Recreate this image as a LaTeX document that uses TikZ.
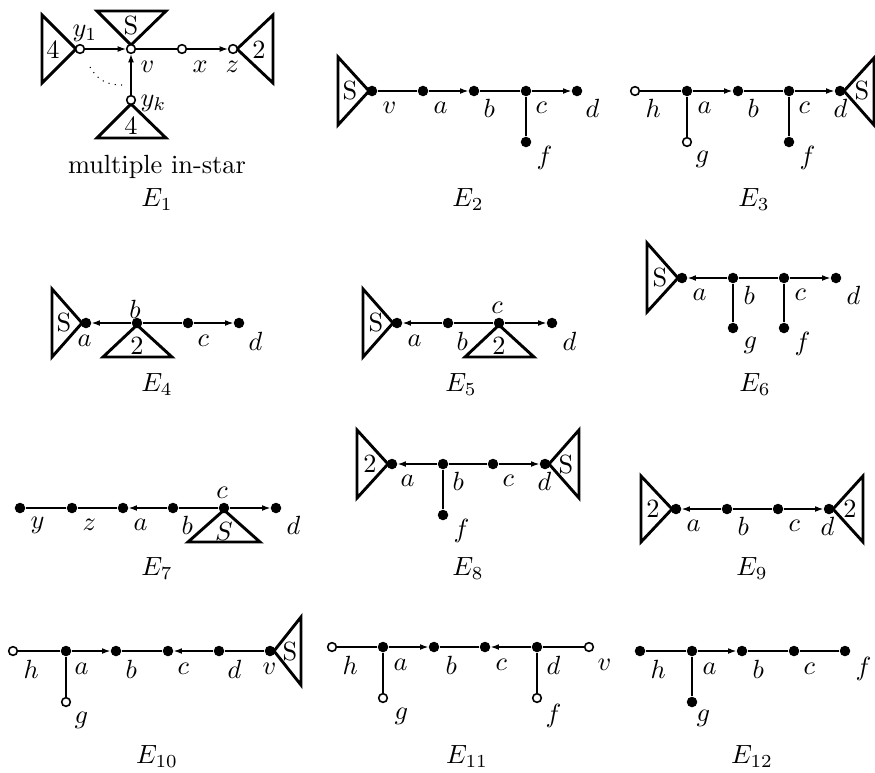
\documentclass[tikz,border=0pt]{standalone}
\usetikzlibrary{arrows.meta}
\begin{document}
\begin{tikzpicture}[x=0.38pt,y=-0.38pt,
  fn/.style={circle,fill=black,inner sep=0pt,minimum size=4pt},
  on/.style={circle,draw=black,fill=white,line width=0.6pt,inner sep=0pt,minimum size=3.3pt},
  thk/.style={line width=1pt},
  thn/.style={line width=0.4pt},
  arr/.style={thn,-{Latex[length=3.1pt,width=2.2pt]}},
  tri/.style={line width=1.1pt,line join=miter},
  lb/.style={anchor=west,inner sep=0pt},
  lbs/.style={anchor=center,inner sep=0pt},
  tt/.style={inner sep=0pt},
  captn/.style={anchor=north,inner sep=0pt},
]
\useasboundingbox (0,0) rectangle (875,772);

% ---------------- E1 ----------------
\draw[tri] (42,15) -- (76,49) -- (42,83) -- cycle;
\node[tt] (e1t1) at (53,50) {4};
\draw[tri] (97,11) -- (166,11) -- (131,45) -- cycle;
\node[tt] (e1t2) at (131,26) {S};
\draw[tri] (237,49) -- (273,15) -- (273,83) -- cycle;
\node[tt] (e1t3) at (259,50) {2};
\draw[tri] (131,104) -- (97,138) -- (166,138) -- cycle;
\node[tt] (e1t4) at (131,126) {4};
\node[on] (e1y1) at (80,49) {};
\node[on] (e1v) at (131,49) {};
\node[on] (e1x) at (182,49) {};
\node[on] (e1z) at (233,49) {};
\node[on] (e1yk) at (131,100) {};
\draw[arr] (e1y1) -- (e1v);
\draw[thk] (e1v) -- (e1x);
\draw[arr] (e1x) -- (e1z);
\draw[arr] (e1yk) -- (e1v);
\draw[thn,dotted] (90,67) .. controls (98,81) and (108,85) .. (122,85);
\node[lb] (e1ly1) at (72,33) {$y_1$};
\node[lb] (e1lv) at (140,67) {$v$};
\node[lb] (e1lx) at (192,67) {$x$};
\node[lb] (e1lz) at (225,67) {$z$};
\node[lb] (e1lyk) at (140,103) {$y_k$};
\node[captn] (e1m) at (157,155) {multiple in-star};
\node[captn] (e1c) at (157,188) {$E_1$};

% ---------------- E2 ----------------
\draw[tri] (338,57) -- (369,91) -- (338,125) -- cycle;
\node[tt] (e2t) at (350,91) {S};
\node[fn] (e2v) at (372,91) {};
\node[fn] (e2a) at (423,91) {};
\node[fn] (e2b) at (474,91) {};
\node[fn] (e2c) at (526,91) {};
\node[fn] (e2d) at (577,91) {};
\node[fn] (e2f) at (526,142) {};
\draw[thk] (e2v) -- (e2a);
\draw[arr] (e2a) -- (e2b);
\draw[thk] (e2b) -- (e2c);
\draw[arr] (e2c) -- (e2d);
\draw[thk] (e2c) -- (e2f);
\node[lb] (e2lv) at (382,108) {$v$};
\node[lb] (e2la) at (433,108) {$a$};
\node[lb] (e2lb) at (483,108) {$b$};
\node[lb] (e2lc) at (535,108) {$c$};
\node[lb] (e2ld) at (585,108) {$d$};
\node[lb] (e2lf) at (536,158) {$f$};
\node[captn] (e2cap) at (468,188) {$E_2$};

% ---------------- E3 ----------------
\node[on] (e3h) at (635,91) {};
\node[fn] (e3a) at (687,91) {};
\node[on] (e3g) at (687,142) {};
\node[fn] (e3b) at (738,91) {};
\node[fn] (e3c) at (789,91) {};
\node[fn] (e3f) at (789,142) {};
\node[fn] (e3d) at (840,91) {};
\draw[tri] (844,91) -- (874,58) -- (874,125) -- cycle;
\node[tt] (e3t) at (862,91) {S};
\draw[thk] (e3h) -- (e3a);
\draw[thk] (e3a) -- (e3g);
\draw[arr] (e3a) -- (e3b);
\draw[thk] (e3b) -- (e3c);
\draw[thk] (e3c) -- (e3f);
\draw[arr] (e3c) -- (e3d);
\node[lb] (e3lh) at (645,108) {$h$};
\node[lb] (e3la) at (697,108) {$a$};
\node[lb] (e3lg) at (695,159) {$g$};
\node[lb] (e3lb) at (747,108) {$b$};
\node[lb] (e3lc) at (798,108) {$c$};
\node[lb] (e3lf) at (799,158) {$f$};
\node[lb] (e3ld) at (833,108) {$d$};
\node[captn] (e3cap) at (754,188) {$E_3$};

% ---------------- E4 ----------------
\draw[tri] (52,289) -- (82,323) -- (52,357) -- cycle;
\node[tt] (e4t1) at (64,323) {S};
\draw[tri] (137,325) -- (103,357) -- (172,357) -- cycle;
\node[tt] (e4t2) at (137,346) {2};
\node[fn] (e4a) at (86,323) {};
\node[fn] (e4b) at (137,323) {};
\node[fn] (e4c) at (188,323) {};
\node[fn] (e4d) at (239,323) {};
\draw[arr] (e4b) -- (e4a);
\draw[thk] (e4b) -- (e4c);
\draw[arr] (e4c) -- (e4d);
\node[lb] (e4la) at (77,341) {$a$};
\node[lbs] (e4lb) at (135,309) {$b$};
\node[lb] (e4lc) at (197,341) {$c$};
\node[lb] (e4ld) at (248,341) {$d$};
\node[captn] (e4cap) at (157,373) {$E_4$};

% ---------------- E5 ----------------
\draw[tri] (363,289) -- (393,323) -- (363,357) -- cycle;
\node[tt] (e5t1) at (376,323) {S};
\draw[tri] (499,325) -- (465,357) -- (534,357) -- cycle;
\node[tt] (e5t2) at (499,346) {2};
\node[fn] (e5a) at (397,323) {};
\node[fn] (e5b) at (448,323) {};
\node[fn] (e5c) at (499,323) {};
\node[fn] (e5d) at (552,323) {};
\draw[arr] (e5b) -- (e5a);
\draw[thk] (e5b) -- (e5c);
\draw[arr] (e5c) -- (e5d);
\node[lb] (e5la) at (407,341) {$a$};
\node[lb] (e5lb) at (456,341) {$b$};
\node[lbs] (e5lc) at (497,308) {$c$};
\node[lb] (e5ld) at (562,341) {$d$};
\node[captn] (e5cap) at (461,373) {$E_5$};

% ---------------- E6 ----------------
\draw[tri] (647,243) -- (678,278) -- (647,312) -- cycle;
\node[tt] (e6t) at (660,278) {S};
\node[fn] (e6a) at (682,278) {};
\node[fn] (e6b) at (733,278) {};
\node[fn] (e6c) at (784,278) {};
\node[fn] (e6d) at (836,278) {};
\node[fn] (e6g) at (733,328) {};
\node[fn] (e6f) at (784,328) {};
\draw[arr] (e6b) -- (e6a);
\draw[thk] (e6b) -- (e6c);
\draw[thk] (e6b) -- (e6g);
\draw[thk] (e6c) -- (e6f);
\draw[arr] (e6c) -- (e6d);
\node[lb] (e6la) at (692,295) {$a$};
\node[lb] (e6lb) at (743,295) {$b$};
\node[lb] (e6lc) at (794,295) {$c$};
\node[lb] (e6ld) at (846,295) {$d$};
\node[lb] (e6lg) at (743,345) {$g$};
\node[lb] (e6lf) at (794,344) {$f$};
\node[captn] (e6cap) at (755,373) {$E_6$};

% ---------------- E7 ----------------
\draw[tri] (224,510) -- (188,542) -- (260,542) -- cycle;
\node[tt] (e7t) at (224,531) {$S$};
\node[fn] (e7y) at (20,508) {};
\node[fn] (e7z) at (72,508) {};
\node[fn] (e7a) at (123,508) {};
\node[fn] (e7b) at (173,508) {};
\node[fn] (e7c) at (224,508) {};
\node[fn] (e7d) at (276,508) {};
\draw[thk] (e7y) -- (e7z);
\draw[thk] (e7z) -- (e7a);
\draw[arr] (e7b) -- (e7a);
\draw[thk] (e7b) -- (e7c);
\draw[arr] (e7c) -- (e7d);
\node[lb] (e7ly) at (30,525) {$y$};
\node[lb] (e7lz) at (82,525) {$z$};
\node[lb] (e7la) at (133,525) {$a$};
\node[lb] (e7lb) at (181,525) {$b$};
\node[lbs] (e7lc) at (222,493) {$c$};
\node[lb] (e7ld) at (286,525) {$d$};
\node[captn] (e7cap) at (157,557) {$E_7$};

% ---------------- E8 ----------------
\draw[tri] (357,430) -- (388,464) -- (357,498) -- cycle;
\node[tt] (e8t1) at (370,464) {2};
\draw[tri] (549,464) -- (579,430) -- (579,498) -- cycle;
\node[tt] (e8t2) at (566,464) {S};
\node[fn] (e8a) at (392,464) {};
\node[fn] (e8b) at (443,464) {};
\node[fn] (e8c) at (493,464) {};
\node[fn] (e8d) at (545,464) {};
\node[fn] (e8f) at (443,515) {};
\draw[arr] (e8b) -- (e8a);
\draw[thk] (e8b) -- (e8c);
\draw[arr] (e8c) -- (e8d);
\draw[thk] (e8b) -- (e8f);
\node[lb] (e8la) at (400,481) {$a$};
\node[lb] (e8lb) at (452,481) {$b$};
\node[lb] (e8lc) at (502,481) {$c$};
\node[lb] (e8ld) at (537,481) {$d$};
\node[lb] (e8lf) at (453,531) {$f$};
\node[captn] (e8cap) at (468,557) {$E_8$};

% ---------------- E9 ----------------
\draw[tri] (641,476) -- (672,509) -- (641,542) -- cycle;
\node[tt] (e9t1) at (653,509) {2};
\draw[tri] (833,509) -- (863,476) -- (863,542) -- cycle;
\node[tt] (e9t2) at (850,509) {2};
\node[fn] (e9a) at (676,509) {};
\node[fn] (e9b) at (727,509) {};
\node[fn] (e9c) at (778,509) {};
\node[fn] (e9d) at (829,509) {};
\draw[arr] (e9b) -- (e9a);
\draw[thk] (e9b) -- (e9c);
\draw[arr] (e9c) -- (e9d);
\node[lb] (e9la) at (686,526) {$a$};
\node[lb] (e9lb) at (737,526) {$b$};
\node[lb] (e9lc) at (788,526) {$c$};
\node[lb] (e9ld) at (820,526) {$d$};
\node[captn] (e9cap) at (752,557) {$E_9$};

% ---------------- E10 ----------------
\node[on] (e10h) at (13,651) {};
\node[fn] (e10a) at (66,651) {};
\node[on] (e10g) at (66,702) {};
\node[fn] (e10b) at (116,651) {};
\node[fn] (e10c) at (168,651) {};
\node[fn] (e10d) at (219,651) {};
\node[fn] (e10v) at (270,651) {};
\draw[tri] (274,651) -- (301,617) -- (301,685) -- cycle;
\node[tt] (e10t) at (290,651) {S};
\draw[thk] (e10h) -- (e10a);
\draw[thk] (e10a) -- (e10g);
\draw[arr] (e10a) -- (e10b);
\draw[thk] (e10b) -- (e10c);
\draw[arr] (e10d) -- (e10c);
\draw[thk] (e10d) -- (e10v);
\node[lb] (e10lh) at (23,669) {$h$};
\node[lb] (e10la) at (74,669) {$a$};
\node[lb] (e10lg) at (74,720) {$g$};
\node[lb] (e10lb) at (125,669) {$b$};
\node[lb] (e10lc) at (177,669) {$c$};
\node[lb] (e10ld) at (227,669) {$d$};
\node[lb] (e10lv) at (262,669) {$v$};
\node[captn] (e10cap) at (157,745) {$E_{10}$};

% ---------------- E11 ----------------
\node[on] (e11h) at (332,647) {};
\node[fn] (e11a) at (383,647) {};
\node[on] (e11g) at (383,698) {};
\node[fn] (e11b) at (434,647) {};
\node[fn] (e11c) at (485,647) {};
\node[fn] (e11d) at (537,647) {};
\node[on] (e11f) at (537,698) {};
\node[on] (e11v) at (589,647) {};
\draw[thk] (e11h) -- (e11a);
\draw[thk] (e11a) -- (e11g);
\draw[arr] (e11a) -- (e11b);
\draw[thk] (e11b) -- (e11c);
\draw[arr] (e11d) -- (e11c);
\draw[thk] (e11d) -- (e11f);
\draw[thk] (e11d) -- (e11v);
\node[lb] (e11lh) at (342,665) {$h$};
\node[lb] (e11la) at (393,665) {$a$};
\node[lb] (e11lg) at (394,716) {$g$};
\node[lb] (e11lb) at (445,665) {$b$};
\node[lb] (e11lc) at (495,665) {$c$};
\node[lb] (e11ld) at (546,665) {$d$};
\node[lb] (e11lf) at (545,716) {$f$};
\node[lb] (e11lv) at (597,665) {$v$};
\node[captn] (e11cap) at (467,745) {$E_{11}$};

% ---------------- E12 ----------------
\node[fn] (e12h) at (640,651) {};
\node[fn] (e12a) at (692,651) {};
\node[fn] (e12g) at (692,702) {};
\node[fn] (e12b) at (742,651) {};
\node[fn] (e12c) at (794,651) {};
\node[fn] (e12f) at (845,651) {};
\draw[thk] (e12h) -- (e12a);
\draw[thk] (e12a) -- (e12g);
\draw[arr] (e12a) -- (e12b);
\draw[thk] (e12b) -- (e12c);
\draw[thk] (e12c) -- (e12f);
\node[lb] (e12lh) at (650,669) {$h$};
\node[lb] (e12la) at (702,669) {$a$};
\node[lb] (e12lg) at (696,718) {$g$};
\node[lb] (e12lb) at (752,669) {$b$};
\node[lb] (e12lc) at (803,669) {$c$};
\node[lb] (e12lf) at (855,669) {$f$};
\node[captn] (e12cap) at (752,745) {$E_{12}$};
\end{tikzpicture}
\end{document}
